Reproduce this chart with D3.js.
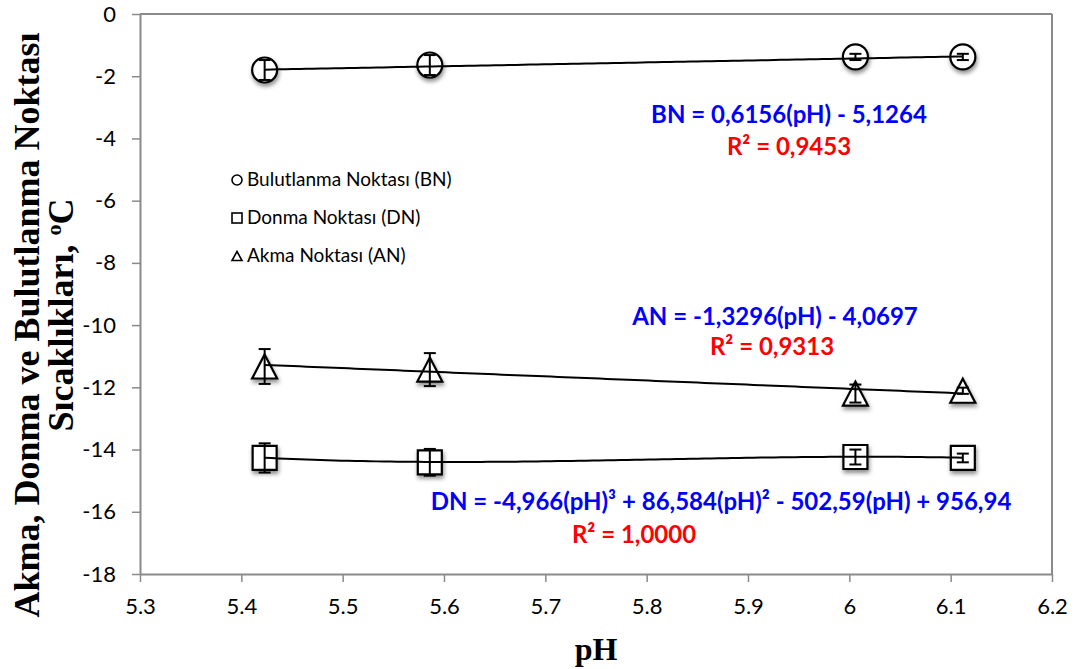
<!DOCTYPE html>
<html><head><meta charset="utf-8">
<script src="https://cdn.jsdelivr.net/npm/d3@7"></script>
<style>
html,body{margin:0;padding:0;background:#fff;}
svg{display:block;}
</style></head>
<body>
<svg id="chart" width="1078" height="669"></svg>
<script>
// ---- data ----
const phValues = [5.423, 5.586, 6.006, 6.112];
const bnValues = [-1.80, -1.64, -1.38, -1.38];
const bnErrors = [0.32, 0.32, 0.10, 0.10];
const dnValues = [-14.27, -14.41, -14.24, -14.27];
const dnErrors = [0.47, 0.43, 0.24, 0.14];
const anValues = [-11.33, -11.43, -12.20, -12.11];
const anErrors = [0.56, 0.53, 0.29, 0.10];
// trendline coefficients (highest power first), as printed on the chart
const bnTrend = [0.6156, -5.1264];
const anTrend = [-1.3296, -4.0697];
const dnTrend = [-4.966, 86.584, -502.59, 956.94];
const xTicks = [5.3, 5.4, 5.5, 5.6, 5.7, 5.8, 5.9, 6.0, 6.1, 6.2];
const yTicks = [0, -2, -4, -6, -8, -10, -12, -14, -16, -18];
const legendLabels = ["Bulutlanma Noktası (BN)", "Donma Noktası (DN)", "Akma Noktası (AN)"];

const svg = d3.select("#chart");
const L = 140, R = 1052, T = 14, B = 574;
const x = d3.scaleLinear().domain([5.3, 6.2]).range([L, R]);
const y = d3.scaleLinear().domain([-18, 0]).range([B, T]);
const axisColor = "#8a8a8a";

const defs = svg.append("defs");
const f = defs.append("filter").attr("id", "shadow").attr("x", "-50%").attr("y", "-50%").attr("width", "200%").attr("height", "200%");
f.append("feDropShadow").attr("dx", 1).attr("dy", 3).attr("stdDeviation", 2)
  .attr("flood-color", "#000").attr("flood-opacity", 0.45);

// axes
const xAxis = d3.axisBottom(x).tickValues(xTicks).tickSize(8).tickSizeOuter(0).tickPadding(16)
  .tickFormat(d => String(+d.toFixed(1)));
const yAxis = d3.axisLeft(y).tickValues(yTicks).tickSize(8).tickSizeOuter(0).tickPadding(16)
  .tickFormat(d => String(d));
const gx = svg.append("g").attr("transform", `translate(0,${B})`).call(xAxis);
const gy = svg.append("g").attr("transform", `translate(${L},0)`).call(yAxis);
[gx, gy].forEach(g => {
  g.select(".domain").attr("stroke", axisColor).attr("stroke-width", 2);
  g.selectAll(".tick line").attr("stroke", axisColor).attr("stroke-width", 1.5);
  g.selectAll(".tick text").attr("fill", "#000").style("font-family", "Lato, 'Open Sans', sans-serif").style("font-size", "22px");
});
// top & right border
svg.append("line").attr("x1", L).attr("x2", R).attr("y1", T).attr("y2", T).attr("stroke", axisColor).attr("stroke-width", 2);
svg.append("line").attr("x1", R).attr("x2", R).attr("y1", T).attr("y2", B).attr("stroke", axisColor).attr("stroke-width", 2);

// markers
const sym = {
  circle: d3.symbol().type(d3.symbolCircle).size(Math.PI * 12.5 * 12.5),
  square: d3.symbol().type(d3.symbolSquare).size(24 * 24),
};
function triPath(cx, cy, w, h) {
  return `M${cx},${cy - h / 2}L${cx + w / 2},${cy + h / 2}L${cx - w / 2},${cy + h / 2}Z`;
}
function drawSeries(vals, errs, kind) {
  const g = svg.append("g");
  vals.forEach((v, i) => {
    const cx = x(phValues[i]), cy = y(v);
    let p;
    if (kind === "triangle") p = g.append("path").attr("d", triPath(cx, cy, 25, 24));
    else p = g.append("path").attr("d", sym[kind]()).attr("transform", `translate(${cx},${cy})`);
    p.attr("fill", "#fff").attr("stroke", "#000").attr("stroke-width", 2.2).attr("filter", "url(#shadow)");
  });
  vals.forEach((v, i) => {
    const cx = x(phValues[i]);
    const y1 = y(v + errs[i]), y2 = y(v - errs[i]);
    g.append("line").attr("x1", cx).attr("x2", cx).attr("y1", y1).attr("y2", y2).attr("stroke", "#000").attr("stroke-width", 2);
    [y1, y2].forEach(yy => g.append("line").attr("x1", cx - 6).attr("x2", cx + 6).attr("y1", yy).attr("y2", yy).attr("stroke", "#000").attr("stroke-width", 2));
  });
}
drawSeries(bnValues, bnErrors, "circle");
drawSeries(anValues, anErrors, "triangle");
drawSeries(dnValues, dnErrors, "square");

// trendlines
function poly(c, t) { return c.reduce((acc, k) => acc * t + k, 0); }
const phMin = d3.min(phValues), phMax = d3.max(phValues);
const samples = d3.range(0, 101).map(i => phMin + (phMax - phMin) * i / 100);
const line = d3.line().x(d => x(d[0])).y(d => y(d[1]));
[bnTrend, anTrend, dnTrend].forEach(c => {
  svg.append("path").attr("d", line(samples.map(t => [t, poly(c, t)])))
    .attr("fill", "none").attr("stroke", "#000").attr("stroke-width", 2);
});

// equations
const eqFont = "Lato, 'Open Sans', sans-serif";
function eq(txt, cx, by, color) {
  svg.append("text").attr("x", cx).attr("y", by).attr("text-anchor", "middle")
    .attr("fill", color).style("font-family", eqFont).style("font-weight", "bold").style("font-size", "24px").text(txt);
}
eq("BN = 0,6156(pH) - 5,1264", 789, 123, "#0000ff");
eq("R² = 0,9453", 789, 155, "#ff0000");
eq("AN = -1,3296(pH) - 4,0697", 775, 325, "#0000ff");
eq("R² = 0,9313", 772, 355, "#ff0000");
eq("DN = -4,966(pH)³ + 86,584(pH)² - 502,59(pH) + 956,94", 721, 510, "#0000ff");
eq("R² = 1,0000", 634, 543, "#ff0000");

// legend
const lg = svg.append("g");
const legY = [180, 218, 256];
legendLabels.forEach((lab, i) => {
  const cx = 237, cy = legY[i];
  if (i === 0) lg.append("circle").attr("cx", cx).attr("cy", cy).attr("r", 5);
  else if (i === 1) lg.append("rect").attr("x", cx - 5).attr("y", cy - 5).attr("width", 10).attr("height", 10);
  else lg.append("path").attr("d", triPath(cx, cy, 10, 9));
  lg.selectAll("circle,rect,path").attr("fill", "#fff").attr("stroke", "#000").attr("stroke-width", 1.6);
  lg.append("text").attr("x", 247).attr("y", cy + 6).style("font-family", eqFont).style("font-size", "19px").attr("fill", "#000").text(lab);
});

// axis titles
svg.append("text").attr("x", 596).attr("y", 660).attr("text-anchor", "middle")
  .style("font-family", "'Liberation Serif', 'Times New Roman', serif").style("font-weight", "bold").style("font-size", "32px").text("pH");
const yt = svg.append("text").attr("transform", "rotate(-90)")
  .style("font-family", "'Liberation Serif', 'Times New Roman', serif").style("font-weight", "bold").style("font-size", "36px")
  .attr("text-anchor", "middle");
yt.append("tspan").attr("x", -325).attr("y", 39).text("Akma, Donma ve Bulutlanma Noktası");
const l2 = yt.append("tspan").attr("x", -315).attr("y", 73);
l2.append("tspan").text("Sıcaklıkları, ");
l2.append("tspan").attr("dy", -12).style("font-size", "22px").text("o");
l2.append("tspan").attr("dy", 12).text("C");
</script>
</body></html>
